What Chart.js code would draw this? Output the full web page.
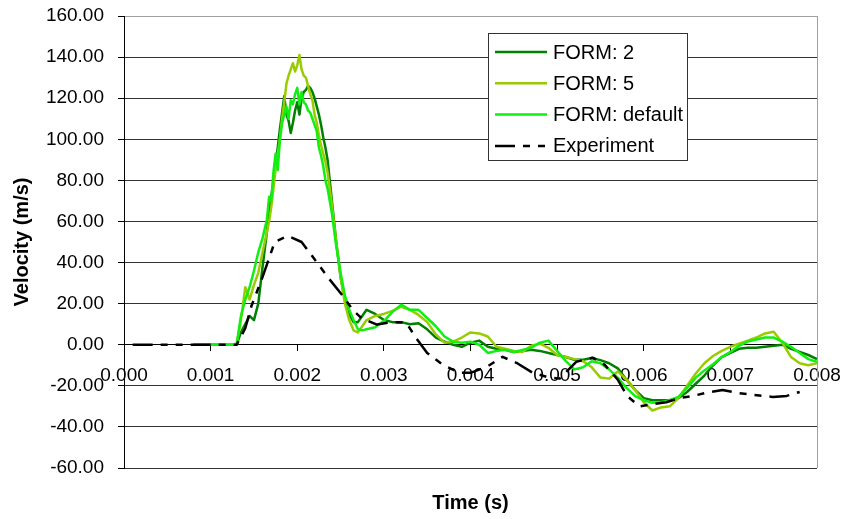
<!DOCTYPE html>
<html>
<head>
<meta charset="utf-8">
<script src="https://cdn.jsdelivr.net/npm/chart.js@4.4.0/dist/chart.umd.min.js"></script>
<style>
  html, body { margin: 0; padding: 0; background: #fff; }
</style>
</head>
<body>
<canvas id="velocityChart" width="846" height="519"></canvas>
<script>
  // time axis shared by the three simulations (s)
  const simTime = [0.0008, 0.0013,
    0.00135, 0.0014, 0.00145, 0.0015, 0.00155, 0.0016,
    0.00165, 0.001675, 0.0017, 0.001725, 0.00175, 0.001775, 0.0018, 0.001825, 0.00185, 0.001875,
    0.0019, 0.001925, 0.00195, 0.001975, 0.002, 0.002025, 0.00205, 0.002075, 0.0021, 0.002125,
    0.00215, 0.002175, 0.0022, 0.002225, 0.00225, 0.002275, 0.0023, 0.002325, 0.00235,
    0.0024, 0.00245, 0.0025, 0.00255, 0.0026, 0.00265, 0.0027, 0.00275, 0.0028,
    0.0029, 0.003, 0.0031, 0.0032, 0.0033, 0.0034, 0.0035, 0.0036, 0.0037, 0.0038,
    0.0039, 0.004, 0.0041, 0.0042, 0.0043, 0.0044, 0.0045, 0.0046, 0.0047, 0.0048,
    0.0049, 0.005, 0.0051, 0.0052, 0.0053, 0.0054, 0.0055, 0.0056, 0.0057, 0.0058,
    0.0059, 0.006, 0.0061, 0.0062, 0.0063, 0.0064, 0.0065, 0.0066, 0.0067, 0.0068,
    0.0069, 0.007, 0.0071, 0.0072, 0.0073, 0.0074, 0.0075, 0.0076, 0.0077, 0.0078,
    0.0079, 0.008];

  // velocities (m/s)
  const form2 = [0, 0,
    6, 10, 14, 12, 20, 38,
    55, 66, 72, 80, 88, 96, 105, 113, 121, 112,
    109, 103, 108, 114, 118, 112, 120, 123, 124, 126,
    125, 123, 120, 116, 112, 107, 101, 96, 90,
    70, 50, 33, 22, 15, 11, 11, 14, 17,
    15, 12, 11, 11, 10, 10.5, 7.5, 3.5, 1.5, 0,
    -1, 1, 2, -1, -2, -2.5, -3.5, -3, -2.5, -3,
    -4, -5, -6, -7.3, -7.3, -6.5, -7.5, -9, -11.5, -17,
    -22, -26, -27, -27, -27, -26, -23, -19, -15, -10,
    -6, -4, -2, -1.5, -1.5, -1, -0.5, 0, -2, -3.5,
    -5, -7];

  const form5 = [0, 0,
    12, 28, 22, 29, 35, 45,
    55, 60, 67, 76, 85, 93, 100, 110, 118, 127,
    131, 134, 137, 133, 136, 141, 134, 131, 130, 126,
    122, 119, 112, 108, 102, 97, 93, 89, 84,
    68, 50, 33, 20, 12, 7, 6, 9, 12,
    14, 15, 16.5, 18.5, 17, 14.5, 11, 5, 1, 1.5,
    3.5, 6, 5.5, 4, -1, -2, -3, -3.5, -0.5, 0.5,
    -1.5, -5, -6, -7, -8, -11, -16, -16.5, -13, -17,
    -22, -28, -32, -30.5, -30, -26, -20, -14, -9, -5.5,
    -3, -1, 0.5, 2, 3.5, 5.5, 6.3, 1, -6, -9,
    -10, -9];

  const formDefault = [0, 0,
    14, 22, 28, 36, 45, 52,
    61, 72, 70, 84, 93, 85, 100, 108, 112, 116,
    110, 119, 117, 122, 125, 117, 123, 118, 117, 114,
    113, 110, 107, 104, 96, 92, 87, 80, 76,
    64, 48, 35, 24, 17, 12, 7.5, 7, 7.5,
    8.5, 11.5, 16, 19.5, 17, 17, 13, 9, 4, 1.5,
    1, 1.5, 0, -4, -3, -2.5, -3.5, -2.5, -1.5, 1,
    2, -3, -8, -12, -11, -8, -9, -12, -16, -21,
    -25, -27, -28.3, -28, -27, -25.4, -21, -16, -12.5, -9.5,
    -6, -3.5, -0.5, 1.5, 2.5, 3.5, 3.5, 1.5, -1, -4,
    -7, -8.3];

  const expTime = [0.0001, 0.0013, 0.0014, 0.00147, 0.0016, 0.00174, 0.00189, 0.00205, 0.00222, 0.00235,
    0.00253, 0.00264, 0.00274, 0.00292, 0.00309, 0.00326, 0.00336, 0.0035, 0.00368, 0.00388,
    0.004, 0.00419, 0.00437, 0.00453, 0.00472, 0.00491, 0.00503, 0.00522, 0.00541, 0.00555,
    0.0057, 0.00581, 0.00595, 0.0061, 0.00626, 0.00641, 0.00656, 0.00672, 0.00691, 0.00707,
    0.00726, 0.00749, 0.00765, 0.0078];

  const experiment = [0, 0, 8, 18.7, 33, 50, 53, 50, 40.5, 33,
    23.6, 17, 13, 9.8, 11, 10.7, 4, -4, -9.8, -13.7,
    -13.7, -10.7, -5.9, -8.8, -13.7, -16, -16.5, -8.3, -6.3, -9.8,
    -17, -25, -30, -29, -28, -26, -25, -23.4, -22, -23.4,
    -24.4, -25.4, -24.9, -23];

  const seriesNames = ['FORM: 2', 'FORM: 5', 'FORM: default', 'Experiment'];

  const toPoints = (xs, ys) => xs.map((x, i) => ({ x: x, y: ys[i] }));

  Chart.defaults.font.family = "'Liberation Sans', Arial, sans-serif";
  Chart.defaults.color = '#000';

  // legend box inside the plot + grey right edge
  const boxLegend = {
    id: 'boxLegend',
    beforeDatasetsDraw(chart) {
      const { ctx, chartArea } = chart;
      ctx.save();
      ctx.strokeStyle = '#a0a0a0';
      ctx.lineWidth = 1;
      ctx.beginPath();
      ctx.moveTo(chartArea.right + 0.5, chartArea.top);
      ctx.lineTo(chartArea.right + 0.5, chartArea.bottom);
      ctx.stroke();
      ctx.restore();
    },
    afterDraw(chart) {
      const ctx = chart.ctx;
      const x = 488, y = 33, w = 199, h = 127;
      ctx.save();
      ctx.fillStyle = '#fff';
      ctx.fillRect(x, y, w, h);
      ctx.strokeStyle = '#333';
      ctx.lineWidth = 1;
      ctx.strokeRect(x + 0.5, y + 0.5, w, h);
      ctx.font = "20px 'Liberation Sans', Arial, sans-serif";
      ctx.textBaseline = 'middle';
      ctx.fillStyle = '#000';
      chart.data.datasets.forEach((ds, i) => {
        const rowY = 52 + i * 31.3;
        ctx.beginPath();
        ctx.strokeStyle = ds.borderColor;
        ctx.lineWidth = ds.borderWidth;
        ctx.setLineDash(ds.borderDash || []);
        ctx.moveTo(495, rowY);
        ctx.lineTo(547, rowY);
        ctx.stroke();
        ctx.setLineDash([]);
        ctx.fillText(ds.label, 553, rowY + 1);
      });
      ctx.restore();
    }
  };

  new Chart(document.getElementById('velocityChart'), {
    type: 'scatter',
    data: {
      datasets: [{
        label: seriesNames[0],
        data: toPoints(simTime, form2),
        borderColor: '#008000',
        borderWidth: 2.5,
        order: 3
      }, {
        label: seriesNames[1],
        data: toPoints(simTime, form5),
        borderColor: '#99CC00',
        borderWidth: 2.5,
        order: 2
      }, {
        label: seriesNames[2],
        data: toPoints(simTime, formDefault),
        borderColor: '#11EE11',
        borderWidth: 2.5,
        order: 1
      }, {
        label: seriesNames[3],
        data: toPoints(expTime, experiment),
        borderColor: '#000',
        borderWidth: 2.5,
        borderDash: [20, 8, 7, 8, 7, 8],
        order: 0
      }]
    },
    options: {
      responsive: false,
      animation: false,
      showLine: true,
      elements: {
        point: { radius: 0, hoverRadius: 0 },
        line: { tension: 0, borderJoinStyle: 'round', fill: false }
      },
      layout: { padding: { top: 16, right: 29, left: 0, bottom: 0 } },
      plugins: {
        legend: { display: false },
        tooltip: { enabled: false },
        title: {
          display: true,
          position: 'bottom',
          fullSize: false,
          text: 'Time (s)',
          color: '#000',
          font: { size: 20, weight: 'bold' },
          padding: { top: 23, bottom: 4 }
        }
      },
      scales: {
        x: {
          type: 'linear',
          position: { y: 0 },
          min: 0,
          max: 0.008,
          afterFit: scale => { scale.paddingLeft = 0; scale.paddingRight = 0; },
          ticks: {
            stepSize: 0.001,
            autoSkip: false,
            maxRotation: 0,
            padding: 14,
            font: { size: 19 },
            color: '#000',
            callback: v => v.toFixed(3)
          },
          grid: { drawOnChartArea: false, tickLength: 6, color: '#000' },
          border: { color: '#000', width: 1 }
        },
        y: {
          min: -60,
          max: 160,
          afterFit: scale => {
            scale.width = 124;
            scale.paddingTop = 0;
            scale.paddingBottom = 0;
          },
          ticks: {
            stepSize: 20,
            padding: 14,
            font: { size: 19 },
            color: '#000',
            callback: v => v.toFixed(2)
          },
          grid: {
            tickLength: 6,
            color: ctx => (ctx.tick && ctx.tick.value === 160 ? '#a0a0a0' : '#333'),
            tickColor: '#000'
          },
          border: { color: '#000', width: 1 },
          title: {
            display: true,
            text: 'Velocity (m/s)',
            color: '#000',
            font: { size: 20, weight: 'bold' },
            padding: { top: 10, bottom: 0 }
          }
        }
      }
    },
    plugins: [boxLegend]
  });
</script>
</body>
</html>
